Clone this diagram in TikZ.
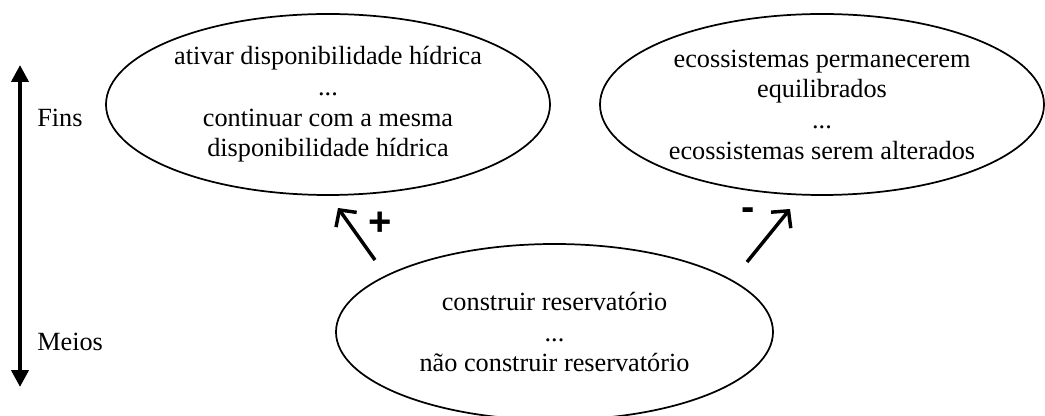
\documentclass[tikz,border=0pt]{standalone}
\usepackage{fontspec}
\setmainfont{Liberation Serif}
\newfontfamily\signfont{Liberation Sans}
\usetikzlibrary{shapes.geometric,arrows.meta}
\begin{document}
\begin{tikzpicture}[x=0.75pt,y=-0.75pt,
  oval/.style={draw, ellipse, line width=1.3pt, inner sep=0pt, align=center,
    font=\fontsize{19.7}{23}\selectfont},
  lbl/.style={inner sep=0pt, anchor=base west, font=\fontsize{19.7}{23}\selectfont},
  rel/.style={line width=2.6pt, -{Straight Barb[length=9pt,width=19pt]}},
  axis/.style={line width=3pt, {Triangle[length=12.75pt,width=12.75pt]}-{Triangle[length=12.75pt,width=12.75pt]}},
  sign/.style={inner sep=0pt, font=\signfont\bfseries\fontsize{30}{30}\selectfont}]
\useasboundingbox (0,0) rectangle (1045,416);
\node[oval, minimum width=333pt, minimum height=135.75pt] (endA) at (328,104.5)
  {ativar disponibilidade hídrica\\...\\continuar com a mesma\\disponibilidade hídrica};
\node[oval, minimum width=333pt, minimum height=135.75pt] (endB) at (822,104.5)
  {ecossistemas permanecerem\\equilibrados\\...\\ecossistemas serem alterados};
\node[oval, minimum width=327.75pt, minimum height=132pt] (means) at (554.5,332)
  {construir reservatório\\...\\não construir reservatório};
\coordinate (axTop) at (20,65);
\coordinate (axBot) at (20,387);
\draw[axis] (axTop) -- (axBot);
\node[lbl] (fins) at (37,127) {Fins};
\node[lbl] (meios) at (37,350) {Meios};
\coordinate (p1s) at (375,260);
\coordinate (p1e) at (338,208);
\coordinate (p2s) at (747,262);
\coordinate (p2e) at (790,209);
\draw[rel] (p1s) -- (p1e);
\draw[rel] (p2s) -- (p2e);
\node[sign] (plus) at (380,224) {+};
\node[sign] (minus) at (748,214) {-};
\end{tikzpicture}
\end{document}
